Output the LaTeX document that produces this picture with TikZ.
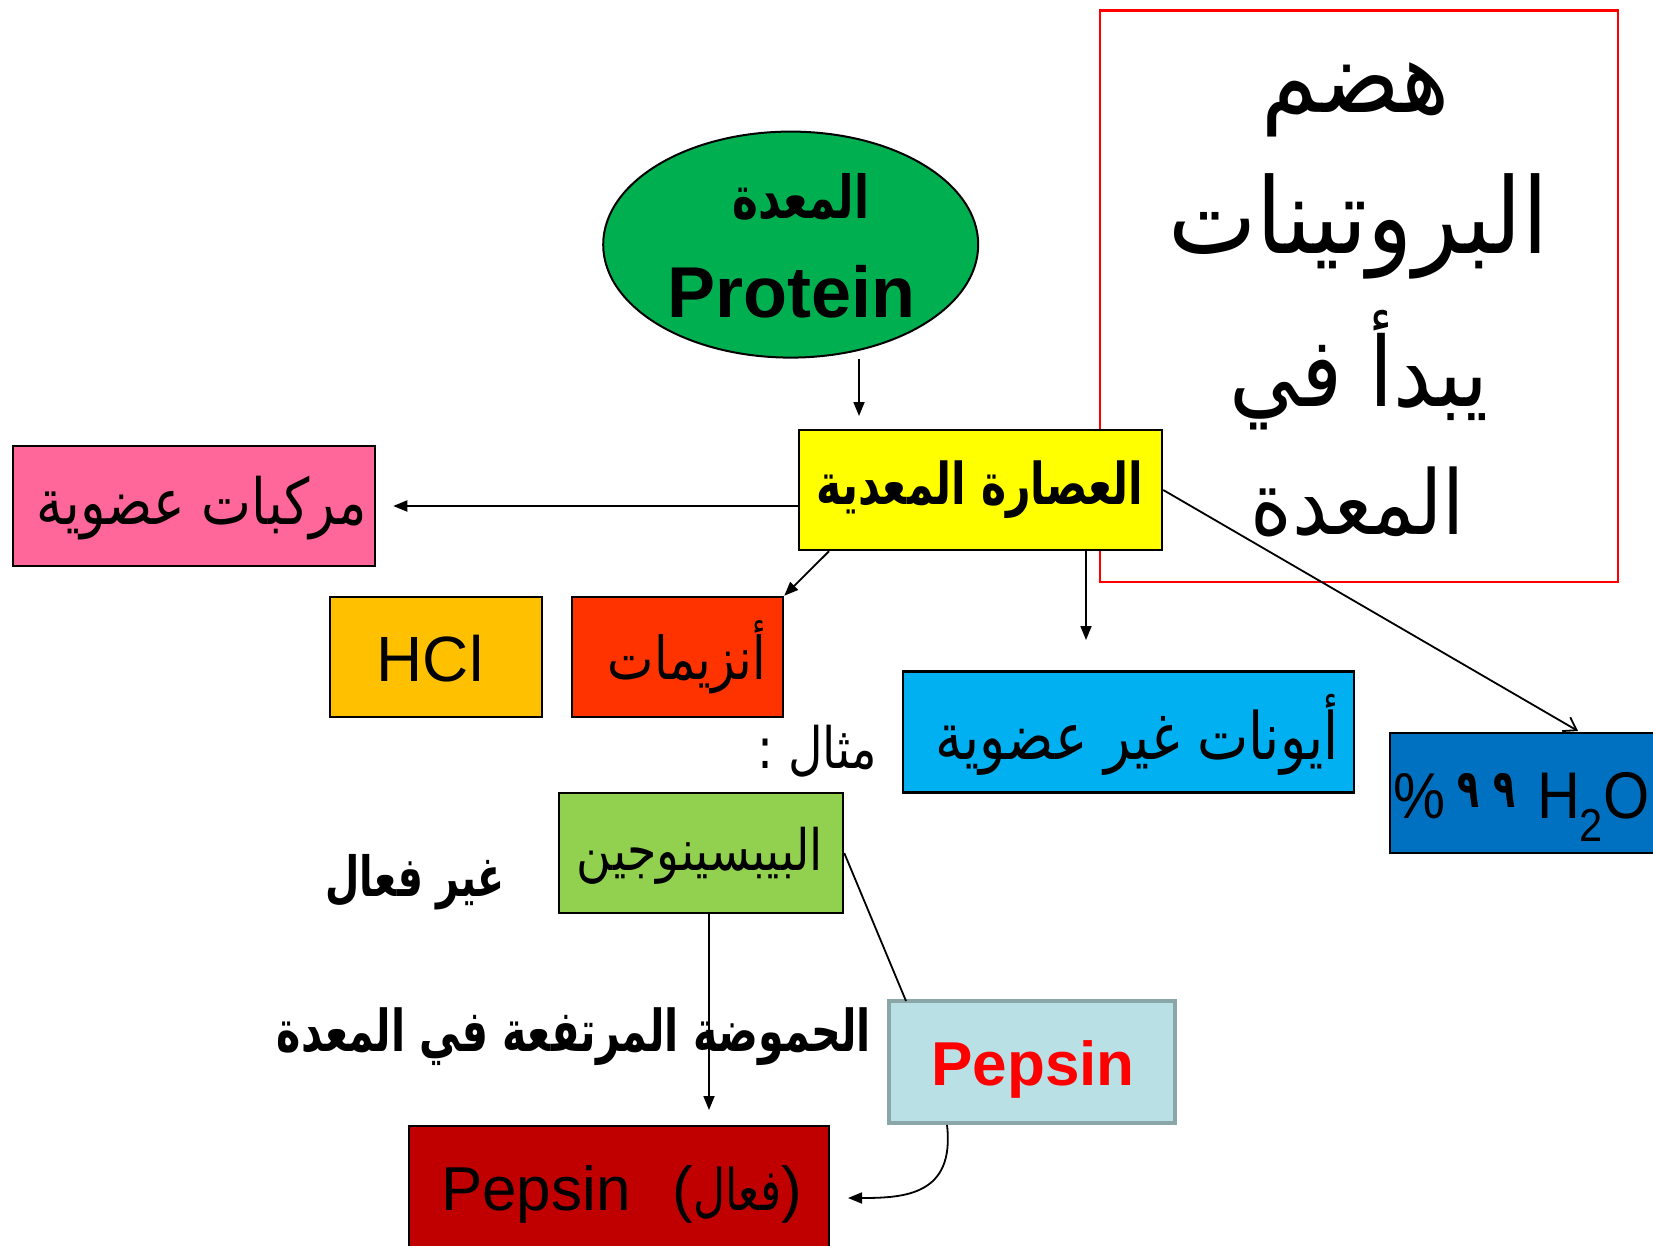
\documentclass[tikz,border=0pt]{standalone}
\usepackage{fontspec}
\usepackage{graphicx}
\setmainfont{Liberation Sans}
\newfontfamily\arabicfont[Script=Arabic]{DejaVu Sans}
\TeXXeTstate=1
\usetikzlibrary{arrows.meta,shapes.geometric}
\definecolor{cEll}{HTML}{00B050}
\definecolor{cYel}{HTML}{FFFF00}
\definecolor{cPink}{HTML}{FF6699}
\definecolor{cHcl}{HTML}{FFC000}
\definecolor{cEnz}{HTML}{FF3300}
\definecolor{cCyan}{HTML}{00B0F0}
\definecolor{cWat}{HTML}{0070C0}
\definecolor{cGrn}{HTML}{92D050}
\definecolor{cPep}{HTML}{B9E0E4}
\definecolor{cPepB}{HTML}{8AA6A8}
\definecolor{cDred}{HTML}{C00000}
% width, vertical stretch, text
\newcommand{\arw}[3]{\resizebox{#1pt}{!}{\scalebox{1}[#2]{\arabicfont\beginR #3\endR}}}
\newcommand{\arwb}[3]{\resizebox{#1pt}{!}{\scalebox{1}[#2]{\arabicfont\bfseries\beginR #3\endR}}}
\newcommand{\ardigit}{\raisebox{11pt}{\resizebox{22pt}{34pt}{\arabicfont\bfseries ٩}}}
\begin{document}
\begin{tikzpicture}[x=1pt,y=-1pt,
  box/.style={draw=black, line width=2.5pt, minimum height=120pt, inner sep=0pt},
  txt/.style={inner sep=0pt, outer sep=0pt},
  arr/.style={line width=1.8pt, -{Triangle[length=14pt,width=11pt]}},
  barb/.style={line width=1.8pt, -{Straight Barb[length=12pt,width=16pt,line width=1.8pt]}},
  ln/.style={line width=1.8pt}]
\fill[white] (0,0) rectangle (1653,1246);
\useasboundingbox (0,0) rectangle (1653,1246);

% title box
\node[draw=red, line width=2.5pt, minimum width=518pt, minimum height=571pt, inner sep=0pt] (title) at (1358.75,296.25) {};
\node[txt] (t1) at (1356,100) {\arw{188}{1.12}{\beginR هضم\endR}};
\node[txt] (t2) at (1358,226) {\arw{380}{1.12}{\beginR البروتينات\endR}};
\node[txt] (t3) at (1359,370) {\arw{259}{1.12}{\beginR يبدأ في\endR}};
\node[txt] (t4) at (1358,502) {\arw{214}{1.12}{\beginR المعدة\endR}};

% ellipse
\node[ellipse, draw=black, line width=2pt, fill=cEll, minimum width=375pt, minimum height=226pt, inner sep=0pt] (ell) at (790.7,244.6) {};
\node[txt] (ellar) at (801,197) {\arwb{137}{1.35}{\beginR المعدة\endR}};
\node[txt, anchor=base, font=\fontsize{72}{72}\selectfont\bfseries] (prot) at (791.5,317) {Protein};

% boxes
\node[box, fill=cYel, minimum width=363pt] (yel) at (980.5,490) {};
\node[txt] at (980,490) {\arwb{327}{1.35}{\beginR العصارة المعدية\endR}};

\node[box, fill=cPink, minimum width=362pt] (pink) at (194,506) {};
\node[txt] at (202,508) {\arw{330}{1.2}{\beginR مركبات عضوية\endR}};

\node[box, fill=cHcl, minimum width=212pt] (hcl) at (436,657) {};
\node[txt, anchor=base, font=\fontsize{64}{64}\selectfont] at (430,681) {HCl};

\node[box, fill=cEnz, minimum width=211pt] (enz) at (677.5,657) {};
\node[txt] at (687,657) {\arw{158}{1.2}{\beginR أنزيمات\endR}};

\node[box, fill=cCyan, minimum width=451pt, minimum height=121pt] (cyan) at (1128.5,732) {};
\node[txt] at (1137,735) {\arw{403}{1.2}{\beginR أيونات غير عضوية\endR}};

\node[box, fill=cWat, minimum width=300pt] (wat) at (1540,793) {};
\node[txt, anchor=base west, font=\fontsize{66}{66}\selectfont] at (1393,818) {\resizebox{52pt}{45pt}{\%}\hspace{12pt}\ardigit\hspace{14pt}\ardigit\hspace{22pt}\scalebox{0.9}[1]{H\textsubscript{2}O}};

\node[txt] (mithal) at (817,751) {\arw{120}{1.2}{\beginR مثال :\endR}};

\node[box, fill=cGrn, minimum width=284pt] (grn) at (701,853) {};
\node[txt] at (700,856) {\arw{246}{1.2}{\beginR البيبسينوجين\endR}};

\node[txt] (ghair) at (415,882) {\arwb{179}{1.4}{\beginR غير فعال\endR}};
\node[txt] (acid) at (574,1037) {\arwb{594}{1.4}{\beginR الحموضة المرتفعة في المعدة\endR}};

\node[draw=cPepB, line width=4pt, fill=cPep, minimum width=286pt, minimum height=122pt, inner sep=0pt] (pep) at (1032,1062) {};
\node[txt, anchor=base, font=\fontsize{62}{62}\selectfont\bfseries, text=red] at (1033,1085) {Pepsin};

\node[box, fill=cDred, minimum width=420pt, minimum height=130pt] (dred) at (619,1191) {};
\node[txt, anchor=base west, font=\fontsize{62}{62}\selectfont] at (441,1210) {Pepsin\hspace{42pt}(\arw{88}{1.3}{\beginR فعال\endR})};

% connectors
\coordinate (c1) at (859,416);
\coordinate (c3) at (829,0);
\coordinate (c4) at (1086,640);
\coordinate (c5) at (1578,731);
\coordinate (c6) at (709,1110);
\coordinate (c7) at (906,1001);
\coordinate (c8s) at (947,0);
\coordinate (c8e) at (848,1198);

\draw[arr] (ell.south -| c1) -- (c1);
\draw[arr] (yel.west |- pink.east) -- ([xshift=17pt]pink.east);
\draw[arr] (yel.south -| c3) -- (enz.north east);
\draw[arr] (yel.south -| c4) -- (c4);
\draw[barb] (yel.east) -- (c5);
\draw[arr] (grn.south -| c6) -- (c6);
\draw[ln] (grn.east) -- (c7);
\draw[arr] (pep.south -| c8s) .. controls (955,1195) and (905,1198) .. (c8e);
\end{tikzpicture}
\end{document}
